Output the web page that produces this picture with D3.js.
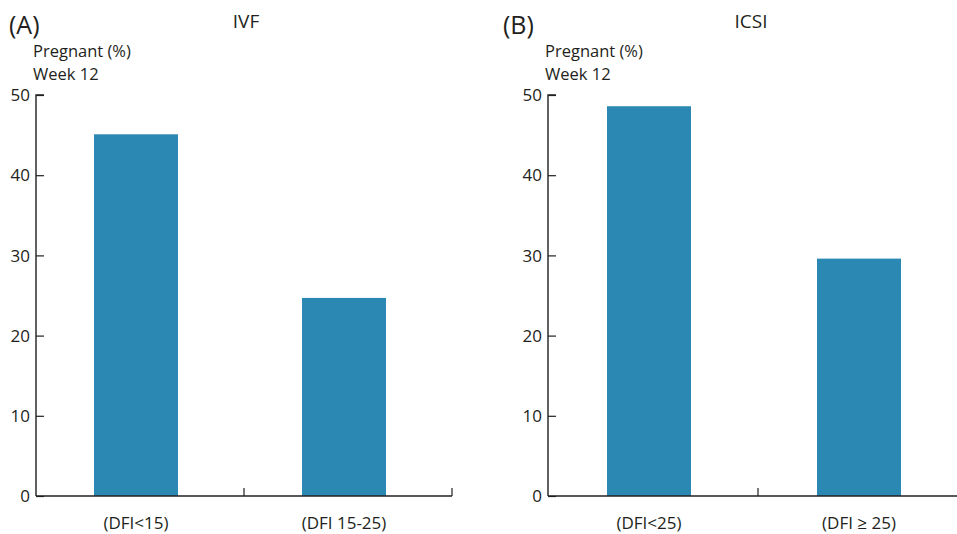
<!DOCTYPE html>
<html>
<head>
<meta charset="utf-8">
<script src="https://cdn.jsdelivr.net/npm/d3@7"></script>
<style>
  html, body { margin: 0; padding: 0; background: #ffffff; }
  svg { display: block; }
  text { font-family: "Open Sans", "Noto Sans", sans-serif; fill: #231f20; }
</style>
</head>
<body>
<svg id="chart" width="957" height="534"></svg>
<script>
// Pregnancy rate at week 12 by DNA fragmentation index (DFI) group
const ivfCategories = ["(DFI<15)", "(DFI 15-25)"];
const ivfValues = [45.1, 24.7];
const icsiCategories = ["(DFI<25)", "(DFI \u2265 25)"];
const icsiValues = [48.6, 29.6];
const yTicks = [0, 10, 20, 30, 40, 50];
const panelLetters = ["(A)", "(B)"];
const panelTitles = ["IVF", "ICSI"];
const yTitle = ["Pregnant (%)", "Week 12"];

const svg = d3.select("#chart");
const barColor = "#2a88b3";
const axisColor = "#231f20";

const panels = [
  { letter: panelLetters[0], title: panelTitles[0], cats: ivfCategories, vals: ivfValues,
    x0: 36, width: 416, letterX: 9, titleX: 246 },
  { letter: panelLetters[1], title: panelTitles[1], cats: icsiCategories, vals: icsiValues,
    x0: 548, width: 420, letterX: 503, titleX: 751 }
];

const y = d3.scaleLinear().domain([0, 50]).range([496, 95]);
const tickLen = 8;
const barW = 84;
const barOffset = -4; // bars sit a little left of each band's centre

panels.forEach(p => {
  const g = svg.append("g");
  const x = d3.scaleBand().domain(p.cats).range([p.x0, p.x0 + p.width]).padding(0);
  const center = c => x(c) + x.bandwidth() / 2 + barOffset;

  // bars
  g.selectAll("rect.bar").data(p.vals).join("rect")
    .attr("class", "bar")
    .attr("x", (d, i) => center(p.cats[i]) - barW / 2)
    .attr("width", barW)
    .attr("y", d => y(d))
    .attr("height", d => y(0) - y(d))
    .attr("fill", barColor);

  // y axis with inward ticks
  const yAxis = d3.axisRight(y).tickValues(yTicks).tickSize(tickLen).tickFormat("");
  const ya = g.append("g").attr("transform", `translate(${p.x0},0)`).call(yAxis);
  ya.select(".domain").attr("d", `M${tickLen},${y(50)}H0V${y(0)}`)
    .attr("stroke", axisColor).attr("stroke-width", 1.4).attr("fill", "none");
  ya.selectAll(".tick line").attr("stroke", axisColor).attr("stroke-width", 1.2);

  // y tick labels
  g.selectAll("text.ytl").data(yTicks).join("text")
    .attr("class", "ytl")
    .attr("x", p.x0 - 6)
    .attr("y", d => y(d))
    .attr("dy", "0.36em")
    .attr("text-anchor", "end")
    .attr("font-size", 17)
    .text(d => d);

  // x axis: baseline with upward ticks at band boundaries
  g.append("line")
    .attr("x1", p.x0).attr("x2", p.x0 + p.width)
    .attr("y1", y(0)).attr("y2", y(0))
    .attr("stroke", axisColor).attr("stroke-width", 1.4);
  const bounds = p.cats.map(c => x(c) + x.bandwidth());
  g.selectAll("line.xt").data(bounds).join("line")
    .attr("class", "xt")
    .attr("x1", d => d).attr("x2", d => d)
    .attr("y1", y(0)).attr("y2", y(0) - tickLen)
    .attr("stroke", axisColor).attr("stroke-width", 1.2);

  // category labels
  g.selectAll("text.xl").data(p.cats).join("text")
    .attr("class", "xl")
    .attr("x", d => center(d))
    .attr("y", 529)
    .attr("text-anchor", "middle")
    .attr("font-size", 17)
    .text(d => d);

  // panel letter and title
  g.append("text").attr("x", p.letterX).attr("y", 34)
    .attr("font-size", 25).text(p.letter);
  g.append("text").attr("x", p.titleX).attr("y", 28)
    .attr("text-anchor", "middle").attr("font-size", 19).text(p.title);

  // axis title
  g.selectAll("text.yt").data(yTitle).join("text")
    .attr("class", "yt")
    .attr("x", p.x0 - 3)
    .attr("y", (d, i) => 57 + i * 23)
    .attr("font-size", 16.5)
    .text(d => d);
});
</script>
</body>
</html>
